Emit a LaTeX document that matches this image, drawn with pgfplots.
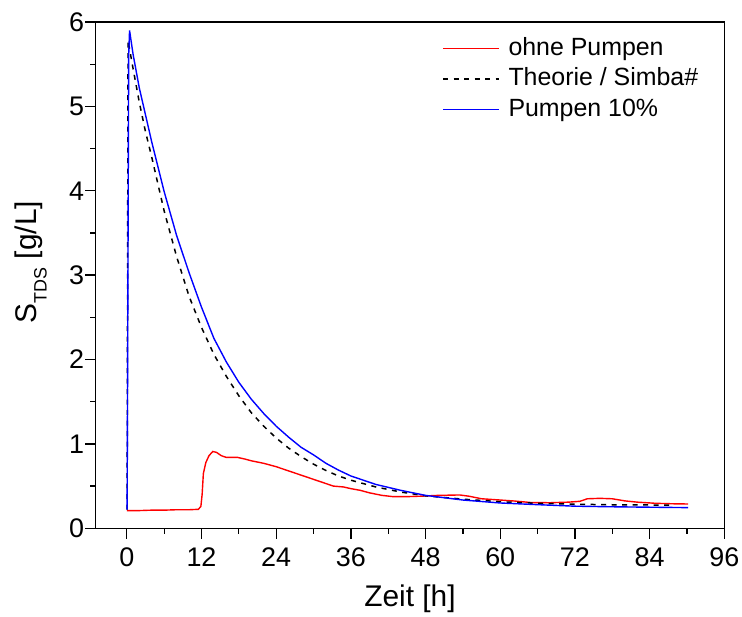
\documentclass[border=0pt]{standalone}
\usepackage{pgfplots}
\pgfplotsset{compat=1.18}
\usepackage{fontspec}
\setmainfont{Liberation Sans}
\begin{document}
\begin{tikzpicture}
\begin{axis}[
  scale only axis,
  width=628.6bp, height=506.3bp,
  at={(0,0)}, anchor=south west,
  xmin=-5, xmax=96, ymin=0, ymax=6,
  xtick={0,12,...,96}, minor xtick={6,18,...,90},
  ytick={0,1,...,6}, minor ytick={0.5,1.5,...,5.5},
  tick align=outside,
  xtick pos=bottom, ytick pos=left,
  major tick length=10.5bp, minor tick length=5.5bp,
  every tick/.style={black, line width=1.3bp},
  axis line style={line width=1.3bp},
  /pgf/number format/assume math mode=true,
  tick label style={font=\fontsize{27}{27}\selectfont},
  xticklabel style={inner sep=0pt, yshift=-9bp},
  yticklabel style={inner sep=0pt, xshift=-1bp},
  xlabel={Zeit [h]},
  ylabel={S\raisebox{-10bp}{\fontsize{18}{18}\selectfont TDS} [g/L]},
  label style={font=\fontsize{30}{30}\selectfont},
  xlabel style={at={(axis description cs:0.5,0)}, anchor=base, yshift=-78.4bp},
  ylabel style={at={(axis description cs:-0.0939,0.526)}, anchor=base},
  legend style={draw=none, fill=none, at={(0.551,0.978)}, anchor=north west,
    inner sep=0pt, font=\fontsize{25}{25}\selectfont,
    nodes={inner sep=2.75bp, text height=19bp, text depth=6bp},
    /tikz/every odd column/.append style={column sep=6bp}},
  legend cell align=left,
  legend image code/.code={\draw[#1] plot coordinates {(0bp,0bp) (56bp,0bp)};},
]
\addplot[red, line width=1.4bp] coordinates {
(0,0.21) (2,0.21) (4,0.215) (6,0.215) (8,0.22) (10,0.22) (11.5,0.225) (11.9,0.26)
(12.1,0.40) (12.3,0.65) (12.7,0.78) (13.2,0.86) (13.8,0.91) (14.4,0.90) (15.2,0.86)
(16,0.84) (17,0.84) (17.8,0.84) (19,0.82) (20,0.80) (22,0.77) (24,0.73) (26,0.68)
(28,0.63) (30,0.58) (32,0.53) (33.2,0.50) (34.8,0.49) (36,0.47) (37.5,0.45) (39,0.42)
(41,0.39) (42.8,0.375) (45,0.375) (47,0.38) (50,0.39) (53.5,0.395) (55,0.38) (57,0.35)
(60,0.335) (62.3,0.323) (65,0.305) (68,0.303) (71,0.31) (72.8,0.32) (74,0.35) (76,0.355)
(78,0.35) (80,0.325) (82,0.31) (85,0.296) (88,0.29) (90.2,0.288)
};
\addlegendentry{ohne Pumpen}
\addplot[black, line width=1.5bp, dash pattern=on 5bp off 5.5bp] coordinates {
(0.05,0.22) (0.2,5.78) (1,5.45) (2,5.05) (3,4.70) (4,4.40) (6,3.76) (8,3.22) (10,2.75)
(12,2.38) (14,2.06) (16,1.80) (18,1.57) (20,1.37) (22,1.21) (24,1.07) (26,0.95)
(28,0.85) (30,0.76) (32,0.685) (34,0.62) (36,0.57) (40,0.49) (44,0.43) (48,0.385)
(54,0.345) (60,0.315) (66,0.296) (72,0.285) (78,0.279) (84,0.276) (88,0.275)
};
\addlegendentry{Theorie / Simba\#}
\addplot[blue, line width=1.4bp] coordinates {
(0.05,0.22) (0.3,5.6) (0.44,5.90) (1,5.62) (2,5.22) (3,4.90) (4,4.58) (6,3.99) (8,3.47)
(10,3.03) (12,2.62) (14,2.25) (16,1.97) (18,1.73) (20,1.53) (22,1.36) (24,1.21)
(26,1.08) (28,0.96) (30,0.87) (32,0.77) (34,0.69) (36,0.62) (40,0.52) (44,0.45)
(48,0.39) (54,0.335) (60,0.30) (66,0.28) (72,0.262) (78,0.255) (84,0.25) (90.2,0.245)
};
\addlegendentry{Pumpen 10\%}
\end{axis}
\path (-95.7bp,-87.7bp) rectangle (646.3bp,528.3bp);
\end{tikzpicture}
\end{document}
